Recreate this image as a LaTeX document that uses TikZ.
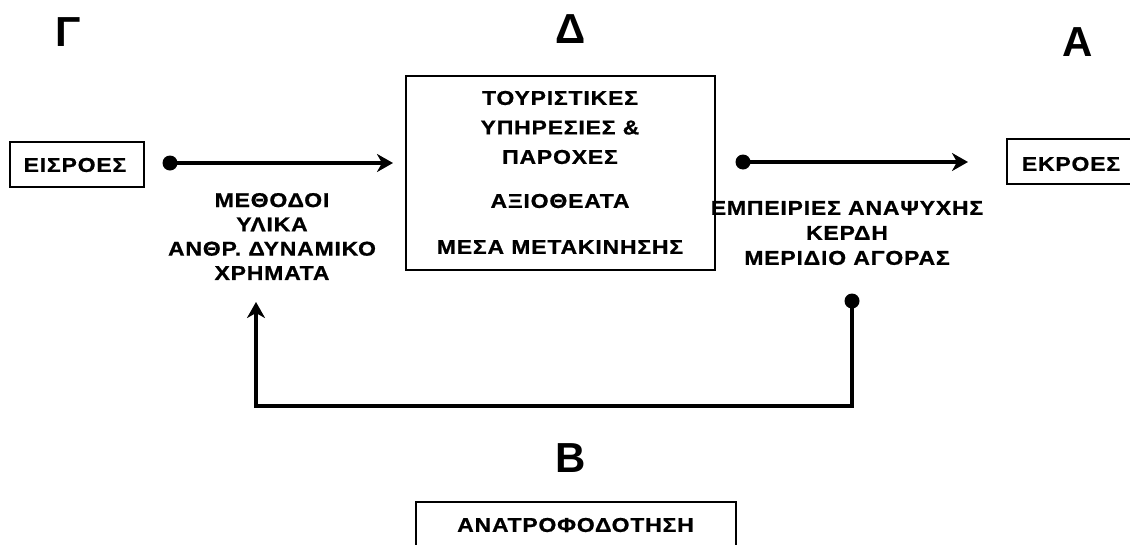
\documentclass[tikz,border=0pt]{standalone}
\usepackage{fontspec}
\usetikzlibrary{arrows.meta}
\newfontfamily\lblfont{Liberation Sans}[FakeStretch=1.15,LetterSpace=4,FakeBold=0.8]
\newfontfamily\bigfont{Liberation Sans}
\tikzset{
  box/.style={draw, line width=1.5pt, inner sep=0pt},
  lbl/.style={font=\lblfont\bfseries\fontsize{20}{24.3}\selectfont, align=center, inner sep=0pt},
  biglbl/.style={font=\bigfont\bfseries\fontsize{42}{42}\selectfont, inner sep=0pt},
  conn/.style={line width=3.2pt, -{Stealth[length=16pt,width=18pt,inset=5pt]}},
  dot/.style={circle, fill, inner sep=0pt, minimum size=15pt},
}
\begin{document}
\begin{tikzpicture}[x=1pt,y=-1pt]
\useasboundingbox (0,0) rectangle (1130,544);
\clip (0,0) rectangle (1130,544);
\fill[white] (0,0) rectangle (1130,544);

% big letters
\node[biglbl] (G) at (68,32) {Γ};
\node[biglbl] (D) at (571,29) {Δ};
\node[biglbl] (A) at (1078,42) {Α};
\node[biglbl] (B) at (571,458) {Β};

% boxes
\node[box, minimum width=134pt, minimum height=45pt] (in) at (77,164.5) {};
\node[lbl] (intxt) at (75,165) {ΕΙΣΡΟΕΣ};
\node[box, minimum width=128pt, minimum height=45pt] (out) at (1071,161.5) {};
\node[lbl] (outtxt) at (1071,164) {ΕΚΡΟΕΣ};
\node[box, minimum width=309pt, minimum height=194pt] (cbox) at (560.5,173) {};
\node[lbl, font=\lblfont\bfseries\fontsize{20}{29.5}\selectfont] (c1) at (560,127.5) {ΤΟΥΡΙΣΤΙΚΕΣ\\ΥΠΗΡΕΣΙΕΣ \&\\ΠΑΡΟΧΕΣ};
\node[lbl] (c2) at (560,201) {ΑΞΙΟΘΕΑΤΑ};
\node[lbl] (c3) at (560,247) {ΜΕΣΑ ΜΕΤΑΚΙΝΗΣΗΣ};
\node[box, minimum width=320pt, minimum height=48pt] (fbbox) at (576,526) {};
\node[lbl] (fbtxt) at (575.5,525) {ΑΝΑΤΡΟΦΟΔΟΤΗΣΗ};

% side labels
\node[lbl] (left) at (272,236.5) {ΜΕΘΟΔΟΙ\\ΥΛΙΚΑ\\ΑΝΘΡ. ΔΥΝΑΜΙΚΟ\\ΧΡΗΜΑΤΑ};
\node[lbl, font=\lblfont\bfseries\fontsize{20}{25}\selectfont] (right) at (847,233) {ΕΜΠΕΙΡΙΕΣ ΑΝΑΨΥΧΗΣ\\ΚΕΡΔΗ\\ΜΕΡΙΔΙΟ ΑΓΟΡΑΣ};

% connectors
\node[dot] (d1) at (170,163) {};
\coordinate (t1) at (393,163);
\draw[conn] (d1.center) -- (t1);
\node[dot] (d2) at (743,162) {};
\coordinate (t2) at (968,162);
\draw[conn] (d2.center) -- (t2);
\node[dot] (d3) at (852,301) {};
\coordinate (t3) at (256,302);
\draw[conn, line join=miter] (d3.center) -- (852,406) -| (t3);
\end{tikzpicture}
\end{document}
